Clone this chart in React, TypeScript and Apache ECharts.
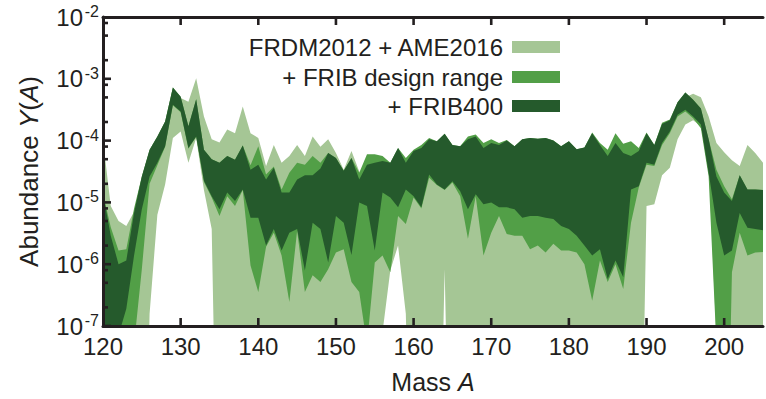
import React, { useEffect, useRef } from 'react';
import * as echarts from 'echarts';

// Mass numbers A
const masses = [
  120, 121, 122, 123, 124, 125, 126, 127, 128, 129,
  130, 131, 132, 133, 134, 135, 136, 137, 138, 139,
  140, 141, 142, 143, 144, 145, 146, 147, 148, 149,
  150, 151, 152, 153, 154, 155, 156, 157, 158, 159,
  160, 161, 162, 163, 164, 165, 166, 167, 168, 169,
  170, 171, 172, 173, 174, 175, 176, 177, 178, 179,
  180, 181, 182, 183, 184, 185, 186, 187, 188, 189,
  190, 191, 192, 193, 194, 195, 196, 197, 198, 199,
  200, 201, 202, 203, 204, 205,
];

const seriesNames = ['FRDM2012 + AME2016', '+ FRIB design range', '+ FRIB400'];

// FRDM2012 + AME2016 band (0 = no abundance)
const lightHi = [
  1.0e-4, 8.71e-6, 5.01e-6, 4.17e-6, 7.08e-6, 2.51e-5, 6.76e-5, 1.10e-4, 1.91e-4, 6.92e-4,
  4.90e-4, 4.27e-4, 1.02e-3, 2.45e-4, 1.05e-4, 9.33e-5, 1.51e-4, 1.32e-4, 3.55e-4, 1.32e-4,
  1.10e-4, 3.89e-5, 8.51e-5, 4.37e-5, 5.62e-5, 8.51e-5, 5.62e-5, 1.17e-4, 7.94e-5, 1.05e-4,
  6.31e-5, 3.39e-5, 6.76e-5, 3.16e-5, 2.0e-5, 1.26e-5, 2.51e-5, 2.51e-5, 2.51e-5, 2.82e-5,
  3.16e-5, 2.51e-5, 5.62e-5, 4.47e-5, 4.47e-5, 4.47e-5, 3.55e-5, 3.16e-5, 3.98e-5, 2.82e-5,
  3.16e-5, 2.82e-5, 2.82e-5, 2.51e-5, 2.51e-5, 2.51e-5, 2.51e-5, 2.51e-5, 2.24e-5, 2.0e-5,
  2.0e-5, 1.58e-5, 1.26e-5, 1.41e-5, 1.26e-5, 6.31e-6, 1.0e-5, 6.31e-6, 3.16e-5, 3.55e-5,
  7.94e-5, 6.31e-5, 1.26e-4, 1.78e-4, 3.31e-4, 5.01e-4, 5.75e-4, 5.01e-4, 2.45e-4, 9.12e-5,
  6.46e-5, 4.79e-5, 3.89e-5, 8.51e-5, 6.31e-5, 4.37e-5,
];
const lightLo = [
  0, 0, 0, 0, 0, 0, 1.58e-7, 6.31e-6, 1.95e-5, 1.10e-4,
  1.41e-4, 4.37e-5, 1.10e-4, 1.58e-5, 3.72e-6, 0, 0, 0, 0, 0,
  0, 0, 0, 0, 0, 0, 0, 0, 0, 0,
  0, 0, 0, 0, 0, 0, 7.94e-8, 7.94e-7, 2.0e-6, 1.58e-7,
  0, 0, 0, 0, 8.32e-7, 0, 0, 0, 0, 0,
  0, 0, 0, 0, 0, 0, 0, 0, 0, 0,
  0, 0, 0, 0, 0, 0, 0, 0, 0, 0,
  8.71e-6, 9.33e-6, 2.75e-5, 3.63e-5, 1.05e-4, 1.82e-4, 2.14e-4, 1.70e-4, 4.90e-5, 6.31e-8,
  0, 0, 0, 0, 0, 0,
];

// + FRIB design range band
const medHi = [
  1.41e-5, 3.98e-6, 1.66e-6, 1.74e-6, 7.94e-6, 2.63e-5, 7.08e-5, 1.17e-4, 2.04e-4, 7.24e-4,
  5.13e-4, 1.70e-4, 4.68e-4, 7.08e-5, 5.01e-5, 4.37e-5, 5.62e-5, 4.90e-5, 8.32e-5, 3.98e-5,
  8.13e-5, 2.82e-5, 3.80e-5, 1.62e-5, 3.02e-5, 4.37e-5, 4.07e-5, 5.62e-5, 4.37e-5, 6.31e-5,
  5.25e-5, 3.24e-5, 5.25e-5, 3.02e-5, 6.03e-5, 6.03e-5, 5.62e-5, 4.37e-5, 7.59e-5, 5.25e-5,
  7.08e-5, 8.51e-5, 1.10e-4, 9.77e-5, 1.29e-4, 8.51e-5, 8.13e-5, 1.17e-4, 1.26e-4, 9.12e-5,
  1.05e-4, 9.12e-5, 1.02e-4, 8.13e-5, 1.05e-4, 1.10e-4, 1.07e-4, 1.10e-4, 1.0e-4, 8.13e-5,
  9.77e-5, 7.24e-5, 7.76e-5, 1.35e-4, 9.12e-5, 7.08e-5, 1.32e-4, 8.91e-5, 9.77e-5, 7.59e-5,
  1.35e-4, 8.51e-5, 1.95e-4, 2.19e-4, 4.17e-4, 6.03e-4, 4.57e-4, 3.31e-4, 1.05e-4, 3.39e-5,
  1.82e-5, 1.12e-5, 2.75e-5, 1.62e-5, 1.62e-5, 1.58e-5,
];
const medLo = [
  0, 0, 0, 0, 5.01e-8, 8.32e-7, 2.0e-5, 3.98e-5, 7.94e-5, 3.72e-4,
  2.88e-4, 7.41e-5, 1.15e-4, 2.14e-5, 1.20e-5, 6.03e-6, 1.26e-5, 8.71e-6, 1.58e-5, 9.55e-7,
  3.55e-7, 1.91e-6, 3.24e-6, 1.38e-6, 2.45e-7, 3.47e-6, 3.55e-7, 6.61e-7, 5.13e-7, 8.32e-7,
  1.55e-6, 1.74e-6, 5.13e-7, 3.55e-7, 5.01e-8, 1.07e-6, 1.38e-6, 7.41e-7, 6.03e-6, 4.47e-6,
  1.20e-5, 7.94e-6, 2.51e-5, 1.91e-5, 1.58e-5, 2.09e-5, 1.26e-5, 2.57e-6, 1.26e-5, 1.38e-6,
  3.24e-6, 6.03e-6, 3.09e-6, 2.88e-6, 2.88e-6, 1.74e-6, 2.0e-6, 1.55e-6, 2.14e-6, 1.66e-6,
  1.66e-6, 1.55e-6, 1.0e-6, 2.57e-7, 1.15e-6, 5.13e-7, 1.0e-6, 3.98e-7, 4.68e-6, 1.74e-5,
  4.07e-5, 3.89e-5, 8.51e-5, 1.32e-4, 2.45e-4, 2.95e-4, 2.29e-4, 1.58e-4, 2.63e-5, 5.01e-8,
  0, 7.41e-7, 3.24e-6, 1.38e-6, 1.55e-6, 1.58e-6,
];

// + FRIB400 band
const darkHi = [
  1.41e-5, 2.88e-6, 1.0e-6, 1.15e-6, 6.76e-6, 2.63e-5, 7.08e-5, 1.17e-4, 2.04e-4, 7.24e-4,
  5.13e-4, 1.70e-4, 4.68e-4, 7.08e-5, 5.01e-5, 4.37e-5, 5.62e-5, 4.90e-5, 8.32e-5, 3.39e-5,
  4.07e-5, 2.34e-5, 3.63e-5, 1.45e-5, 1.45e-5, 2.34e-5, 2.75e-5, 2.75e-5, 3.55e-5, 6.31e-5,
  5.25e-5, 3.24e-5, 5.25e-5, 2.34e-5, 4.07e-5, 4.37e-5, 4.68e-5, 4.37e-5, 7.59e-5, 4.37e-5,
  6.76e-5, 7.59e-5, 1.05e-4, 9.77e-5, 1.29e-4, 8.51e-5, 8.13e-5, 1.05e-4, 1.17e-4, 7.59e-5,
  9.12e-5, 8.51e-5, 1.0e-4, 8.13e-5, 1.05e-4, 1.10e-4, 1.07e-4, 1.10e-4, 1.0e-4, 8.13e-5,
  9.77e-5, 7.24e-5, 7.76e-5, 1.32e-4, 8.51e-5, 5.62e-5, 9.12e-5, 6.31e-5, 5.62e-5, 6.76e-5,
  1.32e-4, 8.51e-5, 1.86e-4, 2.14e-4, 4.17e-4, 6.03e-4, 4.57e-4, 3.31e-4, 1.05e-4, 2.63e-5,
  1.45e-5, 1.05e-5, 2.75e-5, 1.62e-5, 1.62e-5, 1.58e-5,
];
const darkLo = [
  0, 0, 7.08e-8, 1.91e-7, 1.38e-6, 7.76e-6, 2.63e-5, 4.37e-5, 8.13e-5, 3.80e-4,
  2.95e-4, 7.59e-5, 1.17e-4, 2.24e-5, 1.26e-5, 7.76e-6, 1.45e-5, 1.05e-5, 1.62e-5, 5.62e-6,
  5.62e-6, 2.0e-6, 3.72e-6, 1.66e-6, 3.24e-6, 3.72e-6, 7.94e-7, 4.68e-6, 3.72e-6, 1.07e-6,
  6.03e-6, 4.68e-6, 1.41e-6, 1.0e-5, 8.71e-6, 1.66e-6, 1.45e-5, 1.20e-5, 8.32e-6, 1.62e-5,
  1.26e-5, 8.32e-6, 2.82e-5, 1.95e-5, 1.62e-5, 2.19e-5, 1.51e-5, 7.76e-6, 1.35e-5, 9.33e-6,
  1.0e-5, 8.32e-6, 8.32e-6, 7.76e-6, 5.62e-6, 6.03e-6, 6.03e-6, 5.62e-6, 5.37e-6, 4.17e-6,
  3.72e-6, 2.88e-6, 2.0e-6, 1.38e-6, 1.74e-6, 5.75e-7, 1.15e-6, 6.17e-7, 1.62e-5, 1.82e-5,
  4.37e-5, 4.07e-5, 9.12e-5, 1.41e-4, 2.63e-4, 3.16e-4, 2.45e-4, 1.82e-4, 3.02e-5, 4.68e-6,
  1.38e-6, 1.66e-6, 6.76e-6, 3.89e-6, 3.72e-6, 3.55e-6,
];

const xTickLabels = [120, 130, 140, 150, 160, 170, 180, 190, 200];
const yMajorValues = [1e-7, 1e-6, 1e-5, 1e-4, 1e-3, 1e-2];
const minorTickValues = [
  2e-7, 5e-7, 8e-7, 2e-6, 5e-6, 8e-6, 2e-5, 5e-5, 8e-5,
  2e-4, 5e-4, 8e-4, 2e-3, 5e-3, 8e-3,
];

const X_MIN = 120;
const X_MAX = 205;
const Y_MIN = 1e-7;
const Y_MAX = 1e-2;

const FONT = "'Liberation Sans', Arial, Helvetica, sans-serif";
const INK = '#231f20';
const COLORS = ['#a5c695', '#529f47', '#255a2c'];

const ZERO_FLOOR = 1e-12;

function bandRenderer(hi: number[], lo: number[], color: string) {
  return (_params: any, api: any) => {
    const pts: number[][] = [];
    for (let i = 0; i < masses.length; i++) {
      const v = hi[i] > 0 ? hi[i] : ZERO_FLOOR;
      pts.push(api.coord([masses[i], v]));
    }
    for (let i = masses.length - 1; i >= 0; i--) {
      const v = lo[i] > 0 ? lo[i] : ZERO_FLOOR;
      pts.push(api.coord([masses[i], v]));
    }
    return {
      type: 'polygon',
      shape: { points: pts },
      style: { fill: color, stroke: null },
    };
  };
}

// Frame ticks (inward), drawn as small filled polygons placed through the axes' scales.
const TICK_W = 2.6;
const MAJOR_LEN = 8;
const MINOR_LEN = 5;
function tickRenderer(_params: any, api: any) {
  const children: any[] = [];
  const box = (x: number, y: number, w: number, h: number) =>
    children.push({
      type: 'polygon',
      shape: { points: [[x, y], [x + w, y], [x + w, y + h], [x, y + h]] },
      style: { fill: INK, stroke: null },
    });
  for (const v of xTickLabels) {
    const b = api.coord([v, Y_MIN]);
    const t = api.coord([v, Y_MAX]);
    box(b[0] - TICK_W / 2, b[1] - MAJOR_LEN, TICK_W, MAJOR_LEN);
    box(t[0] - TICK_W / 2, t[1], TICK_W, MAJOR_LEN);
  }
  for (const v of yMajorValues) {
    const p = api.coord([X_MIN, v]);
    box(p[0], p[1] - TICK_W / 2, MAJOR_LEN, TICK_W);
  }
  for (const v of minorTickValues) {
    const p = api.coord([X_MIN, v]);
    box(p[0], p[1] - TICK_W / 2, MINOR_LEN, TICK_W);
  }
  return { type: 'group', children };
}

export default function App() {
  const ref = useRef<HTMLDivElement>(null);

  useEffect(() => {
    if (!ref.current) return;
    const chart = echarts.init(ref.current, undefined, { renderer: 'svg' });

    const bands = [
      { hi: lightHi, lo: lightLo },
      { hi: medHi, lo: medLo },
      { hi: darkHi, lo: darkLo },
    ];

    const legendY = [47, 77, 106];

    const frameAxis = {
      z: 10,
      axisLine: { show: true, onZero: false, lineStyle: { color: INK, width: 3 } },
      axisTick: { show: false },
      minorTick: { show: false },
      splitLine: { show: false },
    };

    const option: any = {
      animation: false,
      backgroundColor: '#ffffff',
      grid: { left: 103, top: 17, width: 668.6, height: 310.7, containLabel: false },
      xAxis: [
        {
          type: 'value',
          min: X_MIN,
          max: X_MAX,
          interval: 10,
          ...frameAxis,
          axisLabel: {
            margin: 12,
            fontSize: 24,
            lineHeight: 16,
            fontFamily: FONT,
            color: INK,
            formatter: (v: number) => (xTickLabels.indexOf(Math.round(v)) >= 0 ? String(Math.round(v)) : ''),
          },
          name: 'Mass {i|A}',
          nameLocation: 'middle',
          nameGap: 43,
          nameTextStyle: {
            fontSize: 25,
            fontFamily: FONT,
            color: INK,
            rich: { i: { fontStyle: 'italic', fontSize: 25, fontFamily: FONT, color: INK } },
          },
        },
        {
          type: 'value',
          position: 'top',
          min: X_MIN,
          max: X_MAX,
          interval: 10,
          ...frameAxis,
          axisLabel: { show: false },
        },
      ],
      yAxis: [
        {
          // mantissa "10" of each decade label
          type: 'log',
          logBase: 10,
          min: Y_MIN,
          max: Y_MAX,
          position: 'left',
          ...frameAxis,
          axisLabel: {
            margin: 20,
            fontSize: 24,
            fontFamily: FONT,
            color: INK,
            lineHeight: 16,
            padding: [8, 0, 0, 0],
            formatter: () => '10',
          },
          name: 'Abundance {i|Y}({i|A})',
          nameLocation: 'middle',
          nameGap: 61,
          nameRotate: 90,
          nameTextStyle: {
            fontSize: 26,
            fontFamily: FONT,
            color: INK,
            rich: { i: { fontStyle: 'italic', fontSize: 26, fontFamily: FONT, color: INK } },
          },
        },
        {
          // superscript exponent of each decade label
          type: 'log',
          logBase: 10,
          min: Y_MIN,
          max: Y_MAX,
          position: 'left',
          offset: 0,
          axisLine: { show: false },
          axisTick: { show: false },
          minorTick: { show: false },
          splitLine: { show: false },
          axisLabel: {
            margin: 4,
            fontSize: 16,
            fontFamily: FONT,
            color: INK,
            lineHeight: 11,
            verticalAlign: 'bottom',
            formatter: (v: number) => String(Math.round(Math.log10(v))),
          },
        },
      ],
      series: [
        ...bands.map((b, k) => ({
          type: 'custom',
          name: seriesNames[k],
          xAxisIndex: 0,
          yAxisIndex: 0,
          clip: true,
          z: 2 + k,
          silent: true,
          data: [[X_MIN, 1e-4]],
          renderItem: bandRenderer(b.hi, b.lo, COLORS[k]),
        })),
        {
          type: 'custom',
          name: 'ticks',
          xAxisIndex: 0,
          yAxisIndex: 0,
          clip: true,
          z: 12,
          silent: true,
          data: [[X_MIN, 1e-4]],
          renderItem: tickRenderer,
        },
      ],
      graphic: [
        ...seriesNames.map((name, k) => ({
          type: 'text',
          x: 503,
          y: legendY[k],
          z: 20,
          style: {
            text: name,
            fontSize: 24,
            fontFamily: FONT,
            fill: INK,
            align: 'right',
            verticalAlign: 'middle',
          },
        })),
        ...seriesNames.map((_n, k) => ({
          type: 'rect',
          z: 20,
          shape: { x: 512, y: legendY[k] - 6, width: 48, height: 12 },
          style: { fill: COLORS[k] },
        })),
      ],
    };

    chart.setOption(option);
    return () => {
      chart.dispose();
    };
  }, []);

  return (
    <div
      ref={ref}
      style={{ position: 'absolute', left: 0, top: 0, width: 766, height: 399, overflow: 'hidden' }}
    />
  );
}
